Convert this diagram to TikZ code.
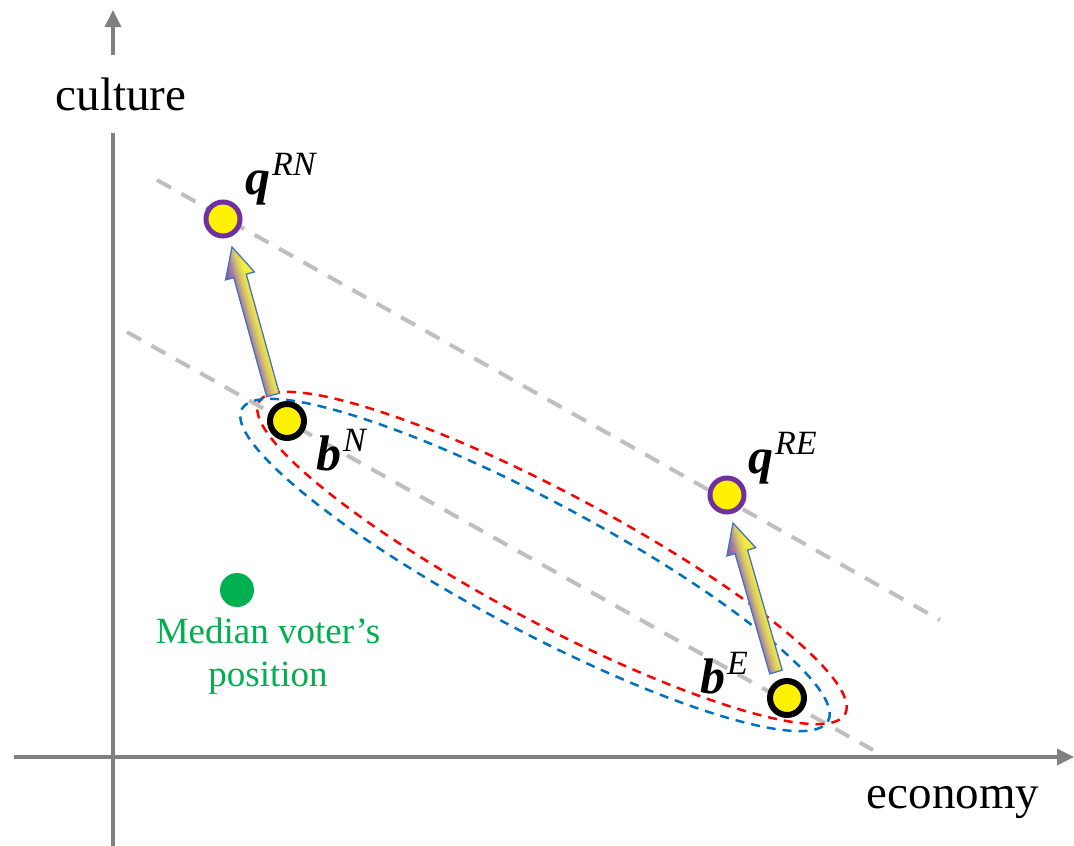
\documentclass[tikz,border=0pt]{standalone}
\usepackage{fontspec}
\setmainfont{Liberation Serif}
\usepackage{xcolor}
\usepackage{tikz}
\usetikzlibrary{arrows.meta,calc}

\definecolor{axisgray}{RGB}{128,128,128}
\definecolor{guidegray}{RGB}{191,191,191}
\definecolor{ringpurple}{RGB}{112,48,160}
\definecolor{medgreen}{RGB}{0,176,80}
\definecolor{ellred}{RGB}{255,0,0}
\definecolor{ellblue}{RGB}{0,112,192}
\definecolor{arrowedge}{RGB}{68,114,196}
\definecolor{shadeleft}{RGB}{130,80,170}
\definecolor{shademauve}{RGB}{165,125,160}
\definecolor{shademid}{RGB}{215,200,105}
\definecolor{shaderight}{RGB}{245,238,55}

% across the arrow: bottom = right side, top = left side
\pgfdeclareverticalshading{vecshade}{100bp}{color(0bp)=(shaderight); color(40bp)=(shaderight);
  color(50bp)=(shademid); color(61bp)=(shademauve); color(75bp)=(shadeleft); color(100bp)=(shadeleft)}

\tikzset{
  axisline/.style={draw=axisgray,line width=3.5pt,-{Triangle[length=17pt,width=16pt]}},
  guide/.style={draw=guidegray,line width=4pt,dash pattern=on 16pt off 12pt},
  ring/.style={line width=2.5pt,dash pattern=on 9pt off 7pt},
  party/.style={circle,fill=yellow,draw=black,line width=6pt,minimum size=34pt,inner sep=0pt},
  target/.style={party,draw=ringpurple,line width=5pt},
  vec/.style={draw=arrowedge,line width=1.3pt,shading=vecshade},
  lbl/.style={anchor=base west,inner sep=0pt,font=\fontsize{50}{54}\selectfont},
  axlbl/.style={font=\fontsize{47}{56}\selectfont}
}

% bold letter with raised italic index
\newcommand{\plabel}[2]{\textbf{\textit{#1}}\kern2pt\raisebox{19pt}{\fontsize{34}{34}\selectfont\textit{#2}}}

% block arrow from #1 to #2
\newcommand{\movearrow}[2]{%
  \pgfmathanglebetweenpoints{\pgfpointanchor{#1}{center}}{\pgfpointanchor{#2}{center}}
  \let\arrang\pgfmathresult
  \path let \p1=($(#2)-(#1)$), \n1={veclen(\x1,\y1)} in \pgfextra{\xdef\arrlen{\n1}};
  \begin{scope}[transform canvas={shift={(#1)},rotate=\arrang},x=1pt,y=1pt]
    \shade[vec] (0,6.5) -- (\arrlen-30,6.5) -- (\arrlen-30,15) -- (\arrlen,0)
      -- (\arrlen-30,-15) -- (\arrlen-30,-6.5) -- (0,-6.5) -- cycle;
  \end{scope}
}

\begin{document}
\begin{tikzpicture}[x=1pt,y=-1pt]
\useasboundingbox (0,0) rectangle (1074,846);

% axes
\coordinate (ybot) at (113,846);
\coordinate (ytop) at (113,10);
\coordinate (xleft) at (14,757);
\coordinate (xright) at (1074,757);
\draw[axisline] (ybot) -- (ytop);
\draw[axisline] (xleft) -- (xright);
\node[axlbl,fill=white,minimum height=78pt,inner xsep=0pt] (culture) at (121,94) {culture};
\node[axlbl,anchor=base] (economy) at (953,808) {economy};

% iso lines
\coordinate (g1a) at (157,180);
\coordinate (g1b) at (940,620);
\coordinate (g2a) at (127,332);
\coordinate (g2b) at (873,750);
\draw[guide] (g1a) -- (g1b);
\draw[guide] (g2a) -- (g2b);

% ellipses
\draw[ring,draw=ellred,rotate around={-28:(552,558)}] (552,558) ellipse [x radius=332pt,y radius=65pt];
\draw[ring,draw=ellblue,rotate around={-28:(535,565)}] (535,565) ellipse [x radius=332pt,y radius=65pt];

% shifts
\coordinate (sN) at (273,395);
\coordinate (tN) at (232,247);
\coordinate (sE) at (776,672);
\coordinate (tE) at (733,523);
\movearrow{sN}{tN}
\movearrow{sE}{tE}

% positions
\node[target] (qRN) at (223,219) {};
\node[party] (bN) at (287,421) {};
\node[target] (qRE) at (727,495) {};
\node[party] (bE) at (787,698) {};
\node[circle,fill=medgreen,minimum size=34pt,inner sep=0pt] (median) at (237,590) {};

\node[lbl] (lqRN) at (245,194) {\plabel{q}{RN}};
\node[lbl] (lbN) at (316,470) {\plabel{b}{N}};
\node[lbl] (lqRE) at (748,473) {\plabel{q}{RE}};
\node[lbl] (lbE) at (700,693) {\plabel{b}{E}};
\node[font=\fontsize{37}{43}\selectfont,text=medgreen,align=center,anchor=north,inner sep=0pt] (medlbl) at (268,618) {Median voter’s\\position};
\end{tikzpicture}
\end{document}
